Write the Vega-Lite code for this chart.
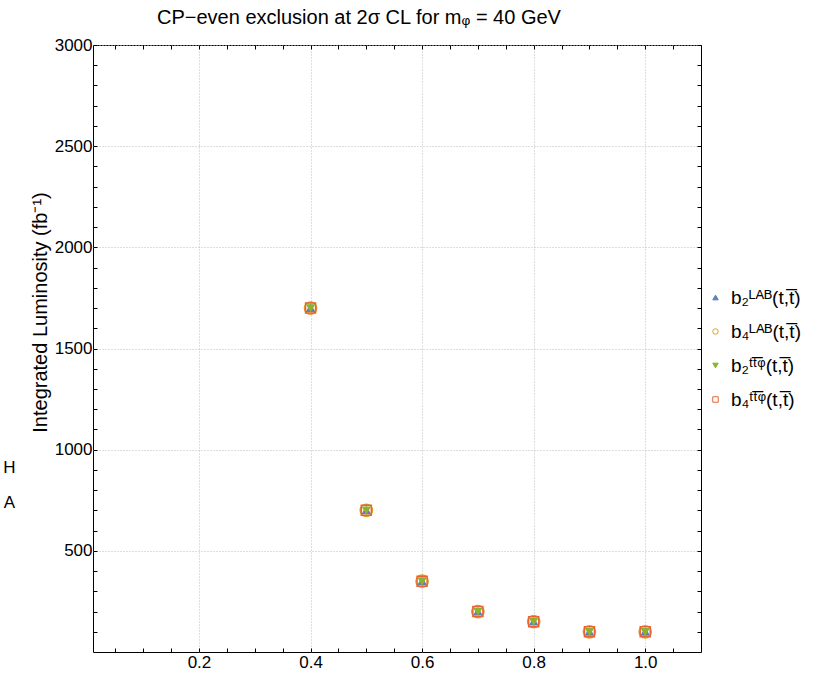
{
  "$schema": "https://vega.github.io/schema/vega-lite/v6.json",
  "autosize": "none",
  "width": 608,
  "height": 607,
  "padding": {"left": 93, "top": 45, "right": 133, "bottom": 27},
  "background": "white",
  "config": {
    "view": {"stroke": "#000", "strokeWidth": 1},
    "font": "Liberation Sans",
    "axis": {
      "domain": false,
      "labelFont": "Liberation Sans",
      "labelFontSize": 17,
      "labelColor": "#000",
      "tickColor": "#000",
      "tickWidth": 1,
      "tickSize": -4,
      "gridColor": "#bdbdbd",
      "gridDash": [1, 2],
      "gridWidth": 1,
      "titleFont": "Liberation Sans",
      "titleFontWeight": "normal",
      "titleColor": "#000"
    },
    "legend": {
      "symbolSize": 30,
      "symbolStrokeWidth": 1,
      "symbolOpacity": 1
    }
  },
  "title": {
    "text": "CP\u2212even exclusion at 2\u03c3 CL for m\u1d69 = 40 GeV",
    "font": "Liberation Sans",
    "fontSize": 20,
    "fontWeight": "normal",
    "color": "#000",
    "anchor": "start",
    "frame": "group",
    "dx": 64,
    "offset": 8
  },
  "datasets": {
    "exclusion": [
      {"s": "b\u2084\u1d38\u1d2c\u1d2e(t,t\u0305)", "x": 0.4, "lumi": 1700},
      {"s": "b\u2084\u1d38\u1d2c\u1d2e(t,t\u0305)", "x": 0.5, "lumi": 700},
      {"s": "b\u2084\u1d38\u1d2c\u1d2e(t,t\u0305)", "x": 0.6, "lumi": 350},
      {"s": "b\u2084\u1d38\u1d2c\u1d2e(t,t\u0305)", "x": 0.7, "lumi": 200},
      {"s": "b\u2084\u1d38\u1d2c\u1d2e(t,t\u0305)", "x": 0.8, "lumi": 150},
      {"s": "b\u2084\u1d38\u1d2c\u1d2e(t,t\u0305)", "x": 0.9, "lumi": 100},
      {"s": "b\u2084\u1d38\u1d2c\u1d2e(t,t\u0305)", "x": 1.0, "lumi": 100},
      {"s": "b\u2082\u1d38\u1d2c\u1d2e(t,t\u0305)", "x": 0.4, "lumi": 1700},
      {"s": "b\u2082\u1d38\u1d2c\u1d2e(t,t\u0305)", "x": 0.5, "lumi": 700},
      {"s": "b\u2082\u1d38\u1d2c\u1d2e(t,t\u0305)", "x": 0.6, "lumi": 350},
      {"s": "b\u2082\u1d38\u1d2c\u1d2e(t,t\u0305)", "x": 0.7, "lumi": 200},
      {"s": "b\u2082\u1d38\u1d2c\u1d2e(t,t\u0305)", "x": 0.8, "lumi": 150},
      {"s": "b\u2082\u1d38\u1d2c\u1d2e(t,t\u0305)", "x": 0.9, "lumi": 100},
      {"s": "b\u2082\u1d38\u1d2c\u1d2e(t,t\u0305)", "x": 1.0, "lumi": 100},
      {"s": "b\u2084\u1d57\u1d57\u0305\u1d60(t,t\u0305)", "x": 0.4, "lumi": 1700},
      {"s": "b\u2084\u1d57\u1d57\u0305\u1d60(t,t\u0305)", "x": 0.5, "lumi": 700},
      {"s": "b\u2084\u1d57\u1d57\u0305\u1d60(t,t\u0305)", "x": 0.6, "lumi": 350},
      {"s": "b\u2084\u1d57\u1d57\u0305\u1d60(t,t\u0305)", "x": 0.7, "lumi": 200},
      {"s": "b\u2084\u1d57\u1d57\u0305\u1d60(t,t\u0305)", "x": 0.8, "lumi": 150},
      {"s": "b\u2084\u1d57\u1d57\u0305\u1d60(t,t\u0305)", "x": 0.9, "lumi": 100},
      {"s": "b\u2084\u1d57\u1d57\u0305\u1d60(t,t\u0305)", "x": 1.0, "lumi": 100},
      {"s": "b\u2082\u1d57\u1d57\u0305\u1d60(t,t\u0305)", "x": 0.4, "lumi": 1700},
      {"s": "b\u2082\u1d57\u1d57\u0305\u1d60(t,t\u0305)", "x": 0.5, "lumi": 700},
      {"s": "b\u2082\u1d57\u1d57\u0305\u1d60(t,t\u0305)", "x": 0.6, "lumi": 350},
      {"s": "b\u2082\u1d57\u1d57\u0305\u1d60(t,t\u0305)", "x": 0.7, "lumi": 200},
      {"s": "b\u2082\u1d57\u1d57\u0305\u1d60(t,t\u0305)", "x": 0.8, "lumi": 150},
      {"s": "b\u2082\u1d57\u1d57\u0305\u1d60(t,t\u0305)", "x": 0.9, "lumi": 100},
      {"s": "b\u2082\u1d57\u1d57\u0305\u1d60(t,t\u0305)", "x": 1.0, "lumi": 100}
    ],
    "side_letters": [
      {"letter": "H"},
      {"letter": "A"}
    ]
  },
  "layer": [
    {
      "data": {"name": "exclusion"},
      "transform": [{"filter": "indexof(datum.s, 'b\u2084\u1d38') === 0"}],
      "mark": {"type": "point", "filled": false, "strokeWidth": 1.5, "size": 150, "opacity": 1},
      "encoding": {
        "x": {
          "field": "x",
          "type": "quantitative",
          "scale": {"domain": [0.01, 1.1], "nice": false, "zero": false},
          "axis": {
            "orient": "bottom",
            "title": null,
            "values": [0.05, 0.1, 0.15, 0.2, 0.25, 0.3, 0.35, 0.4, 0.45, 0.5, 0.55, 0.6, 0.65, 0.7, 0.75, 0.8, 0.85, 0.9, 0.95, 1.0, 1.05],
            "labelExpr": "abs(datum.value*5 - round(datum.value*5)) < 0.001 ? format(datum.value, '.1f') : ''",
            "labelPadding": 6,
            "grid": true,
            "gridOpacity": {"condition": {"test": "abs(datum.value*5 - round(datum.value*5)) < 0.001", "value": 1}, "value": 0}
          }
        },
        "y": {
          "field": "lumi",
          "type": "quantitative",
          "scale": {"domain": [0, 3000], "nice": false},
          "axis": {
            "orient": "left",
            "title": "Integrated Luminosity (fb\u207b\u00b9)",
            "titleFontSize": 20,
            "titleAngle": -90,
            "titleX": -53,
            "titleY": 267,
            "titleAlign": "center",
            "titleBaseline": "middle",
            "values": [100, 200, 300, 400, 500, 600, 700, 800, 900, 1000, 1100, 1200, 1300, 1400, 1500, 1600, 1700, 1800, 1900, 2000, 2100, 2200, 2300, 2400, 2500, 2600, 2700, 2800, 2900, 3000],
            "labelExpr": "datum.value % 500 === 0 ? format(datum.value, 'd') : ''",
            "labelPadding": 5,
            "grid": true,
            "gridOpacity": {"condition": {"test": "datum.value % 500 === 0", "value": 1}, "value": 0}
          }
        },
        "color": {
          "field": "s",
          "type": "nominal",
          "scale": {
            "domain": ["b\u2082\u1d38\u1d2c\u1d2e(t,t\u0305)", "b\u2084\u1d38\u1d2c\u1d2e(t,t\u0305)", "b\u2082\u1d57\u1d57\u0305\u1d60(t,t\u0305)", "b\u2084\u1d57\u1d57\u0305\u1d60(t,t\u0305)"],
            "range": ["#5E81B5", "#E19C24", "#8FB032", "#EB6235"]
          },
          "legend": {
            "title": null,
            "orient": "none",
            "legendX": 613,
            "legendY": 243,
            "symbolSize": 30,
            "symbolStrokeWidth": 1,
            "symbolOpacity": 1,
            "labelFont": "Liberation Sans",
            "labelFontSize": 19,
            "labelColor": "#000",
            "labelOffset": 6,
            "labelLimit": 200,
            "rowPadding": 14
          }
        },
        "fill": {
          "field": "s",
          "type": "nominal",
          "scale": {
            "domain": ["b\u2082\u1d38\u1d2c\u1d2e(t,t\u0305)", "b\u2084\u1d38\u1d2c\u1d2e(t,t\u0305)", "b\u2082\u1d57\u1d57\u0305\u1d60(t,t\u0305)", "b\u2084\u1d57\u1d57\u0305\u1d60(t,t\u0305)"],
            "range": ["#5E81B5", "transparent", "#8FB032", "transparent"]
          },
          "legend": {"title": null}
        },
        "shape": {
          "field": "s",
          "type": "nominal",
          "scale": {
            "domain": ["b\u2082\u1d38\u1d2c\u1d2e(t,t\u0305)", "b\u2084\u1d38\u1d2c\u1d2e(t,t\u0305)", "b\u2082\u1d57\u1d57\u0305\u1d60(t,t\u0305)", "b\u2084\u1d57\u1d57\u0305\u1d60(t,t\u0305)"],
            "range": ["triangle-up", "circle", "triangle-down", "square"]
          },
          "legend": {"title": null}
        }
      }
    },
    {
      "data": {"name": "exclusion"},
      "transform": [{"filter": "indexof(datum.s, 'b\u2082\u1d38') === 0"}],
      "mark": {"type": "point", "filled": false, "strokeWidth": 1.2, "size": 60, "opacity": 1},
      "encoding": {
        "x": {
          "field": "x",
          "type": "quantitative",
          "axis": {
            "orient": "top",
            "title": null,
            "labels": false,
            "grid": false,
            "values": [0.05, 0.1, 0.15, 0.2, 0.25, 0.3, 0.35, 0.4, 0.45, 0.5, 0.55, 0.6, 0.65, 0.7, 0.75, 0.8, 0.85, 0.9, 0.95, 1.0, 1.05]
          }
        },
        "y": {
          "field": "lumi",
          "type": "quantitative",
          "axis": {
            "orient": "right",
            "title": null,
            "labels": false,
            "grid": false,
            "values": [100, 200, 300, 400, 500, 600, 700, 800, 900, 1000, 1100, 1200, 1300, 1400, 1500, 1600, 1700, 1800, 1900, 2000, 2100, 2200, 2300, 2400, 2500, 2600, 2700, 2800, 2900, 3000]
          }
        },
        "color": {"field": "s", "type": "nominal"},
        "fill": {"field": "s", "type": "nominal"},
        "shape": {"field": "s", "type": "nominal"}
      }
    },
    {
      "data": {"name": "exclusion"},
      "transform": [{"filter": "indexof(datum.s, 'b\u2084\u1d57') === 0"}],
      "mark": {"type": "point", "filled": false, "strokeWidth": 1.5, "size": 100, "opacity": 1},
      "encoding": {
        "x": {"field": "x", "type": "quantitative", "axis": null},
        "y": {"field": "lumi", "type": "quantitative", "axis": null},
        "color": {"field": "s", "type": "nominal"},
        "fill": {"field": "s", "type": "nominal"},
        "shape": {"field": "s", "type": "nominal"}
      }
    },
    {
      "data": {"name": "exclusion"},
      "transform": [{"filter": "indexof(datum.s, 'b\u2082\u1d57') === 0"}],
      "mark": {"type": "point", "filled": false, "strokeWidth": 1.2, "size": 55, "opacity": 1},
      "encoding": {
        "x": {"field": "x", "type": "quantitative", "axis": null},
        "y": {"field": "lumi", "type": "quantitative", "axis": null},
        "color": {"field": "s", "type": "nominal"},
        "fill": {"field": "s", "type": "nominal"},
        "shape": {"field": "s", "type": "nominal"}
      }
    },
    {
      "data": {"name": "side_letters"},
      "transform": [{"filter": "datum.letter === 'H'"}],
      "mark": {"type": "text", "font": "Liberation Sans", "fontSize": 17, "fontWeight": "normal", "fill": "#000", "align": "center", "baseline": "middle"},
      "encoding": {
        "text": {"field": "letter", "type": "nominal"},
        "x": {"datum": -0.14, "type": "quantitative", "axis": null},
        "y": {"datum": 910, "type": "quantitative", "axis": null}
      }
    },
    {
      "data": {"name": "side_letters"},
      "transform": [{"filter": "datum.letter === 'A'"}],
      "mark": {"type": "text", "font": "Liberation Sans", "fontSize": 17, "fontWeight": "normal", "fill": "#000", "align": "center", "baseline": "middle"},
      "encoding": {
        "text": {"field": "letter", "type": "nominal"},
        "x": {"datum": -0.14, "type": "quantitative", "axis": null},
        "y": {"datum": 737, "type": "quantitative", "axis": null}
      }
    }
  ]
}
